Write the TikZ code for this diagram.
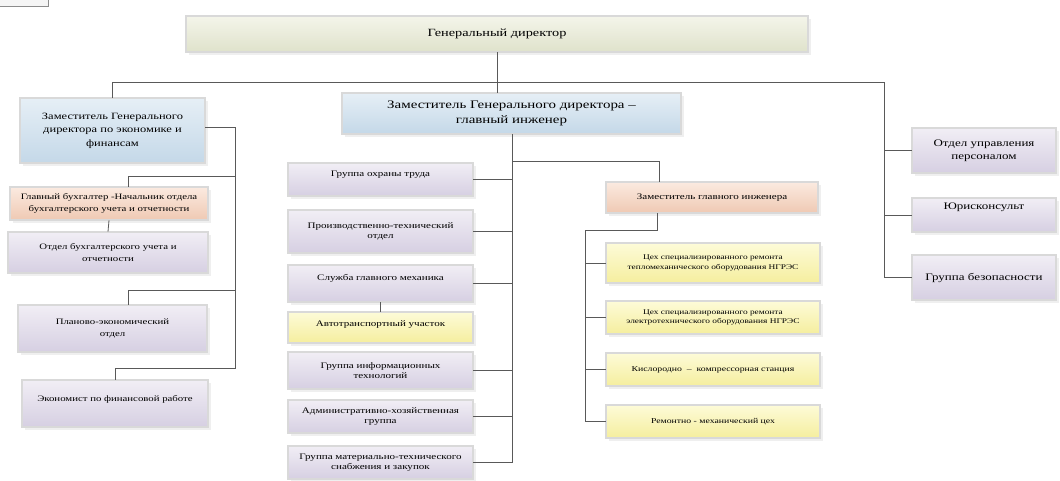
\documentclass[tikz,border=0pt]{standalone}
\usepackage{fontspec}
\setmainfont{Liberation Serif}[FakeStretch=1.3]
\usetikzlibrary{shadows,calc}
\definecolor{gdA}{HTML}{F4F5EA}\definecolor{gdB}{HTML}{DFE2CB}
\definecolor{blA}{HTML}{E6EFF6}\definecolor{blB}{HTML}{C4D8E8}
\definecolor{peA}{HTML}{FBEAE0}\definecolor{peB}{HTML}{EFC9B3}
\definecolor{lvA}{HTML}{F1EEF5}\definecolor{lvB}{HTML}{D6CFE2}
\definecolor{ylA}{HTML}{FDFBD8}\definecolor{ylB}{HTML}{F5EE9E}
% box: [extra options]{style}{name}{x1}{y1}{x2}{y2}{text}
\newcommand\bx[8][]{%
  \pgfmathsetmacro\bxcx{(#4+#6)/2}%
  \pgfmathsetmacro\bxcy{(#5+#7)/2}%
  \pgfmathsetmacro\bxw{#6-#4}%
  \pgfmathsetmacro\bxh{#7-#5}%
  \node[#2, minimum width=\bxw pt, minimum height=\bxh pt, #1] (#3) at (\bxcx,\bxcy) {#8};}
\begin{document}
\begin{tikzpicture}[x=1pt,y=-1pt,
  box/.style={draw=black!55, line width=0.7pt, double=black!15, double distance=1.1pt,
    inner sep=0pt, align=center, font=\fontsize{8.5}{10.5}\selectfont,
    drop shadow={shadow xshift=3pt,shadow yshift=-3pt,fill=black!12}},
  gdbox/.style={box, top color=gdA, bottom color=gdB},
  blbox/.style={box, top color=blA, bottom color=blB},
  pebox/.style={box, top color=peA, bottom color=peB},
  lvbox/.style={box, top color=lvA, bottom color=lvB},
  ylbox/.style={box, top color=ylA, bottom color=ylB},
  lft/.style={font=\fontsize{8.3}{11.5}\selectfont},
  rgt/.style={font=\fontsize{10}{12.5}\selectfont},
  tiny/.style={font=\fontsize{7.2}{9.5}\selectfont},
  small/.style={font=\fontsize{7.5}{9}\selectfont},
  conn/.style={draw=black!65, line width=0.8pt}]
\useasboundingbox (0,0) rectangle (1060,480);
% fragment top-left
\draw[draw=black!45, line width=0.8pt, fill=black!4] (-10,-10) rectangle (48,6);
% boxes
\bx[font=\fontsize{11}{13}\selectfont]{gdbox}{gd}{186}{16}{808}{52}{Генеральный директор}
\bx[font=\fontsize{11.5}{14.5}\selectfont]{blbox}{zc}{342}{93}{681}{134}{Заместитель Генерального директора –\\главный инженер}
\bx[font=\fontsize{9.6}{13.5}\selectfont]{blbox}{ze}{20}{98}{205}{163}{Заместитель Генерального\\директора по экономике и\\финансам}
\bx[lft]{pebox}{gl}{10}{187}{208}{220}{Главный бухгалтер -Начальник отдела\\бухгалтерского учета и отчетности}
\bx[lft]{lvbox}{ob}{8}{232}{208}{273}{Отдел бухгалтерского учета и\\отчетности}
\bx[lft]{lvbox}{pl}{18}{305}{207}{352}{Планово-экономический\\отдел}
\bx[lft, text height=7pt, text depth=12pt]{lvbox}{ek}{22}{380}{208}{427}{Экономист по финансовой работе}
\bx[text height=7pt, text depth=14pt]{lvbox}{m1}{288}{163}{473}{196}{Группа охраны труда}
\bx{lvbox}{m2}{288}{210}{473}{253}{Производственно-технический\\отдел}
\bx[text height=7pt, text depth=14pt]{lvbox}{m3}{288}{265}{473}{302}{Служба главного механика}
\bx[text height=7pt, text depth=10pt]{ylbox}{m4}{288}{312}{473}{343}{Автотранспортный участок}
\bx{lvbox}{m5}{288}{352}{473}{389}{Группа информационных\\технологий}
\bx{lvbox}{m6}{288}{400}{473}{433}{Административно-хозяйственная\\группа}
\bx{lvbox}{m7}{288}{446}{473}{479}{Группа материально-технического\\снабжения и закупок}
\bx{pebox}{zg}{606}{182}{818}{213}{Заместитель главного инженера}
\bx[tiny]{ylbox}{r1}{606}{243}{820}{283}{Цех специализированного ремонта\\тепломеханического оборудования НГРЭС}
\bx[tiny]{ylbox}{r2}{606}{301}{820}{334}{Цех специализированного ремонта\\электротехнического оборудования НГРЭС}
\bx[small]{ylbox}{r3}{606}{353}{820}{386}{Кислородно \ – \ компрессорная станция}
\bx[small]{ylbox}{r4}{606}{405}{820}{438}{Ремонтно - механический цех}
\bx[rgt]{lvbox}{p1}{912}{128}{1056}{173}{Отдел управления\\персоналом}
\bx[rgt, text height=7pt, text depth=18pt]{lvbox}{p2}{912}{198}{1056}{232}{Юрисконсульт}
\bx[rgt]{lvbox}{p3}{912}{255}{1056}{300}{Группа безопасности}
% connectors
\coordinate (top) at (884,82);
\coordinate (lx) at (235,0);
\coordinate (mx) at (512,0);
\coordinate (rx) at (585,0);
\draw[conn] (gd.south) -- (gd.south |- zc.north);
\draw[conn] (ze.north) |- (top) |- (p3.west);
\draw[conn] (top |- p1.west) -- (p1.west);
\draw[conn] (top |- p2.west) -- (p2.west);
% left
\draw[conn] (ze.east |- 0,127) -- (lx |- 0,127) -- (lx |- 0,368) -| (ek.north);
\draw[conn] (lx |- 0,176) -| ($(gl.north)+(19,0)$);
\draw[conn] (lx |- 0,290) -| ($(pl.north)+(15.5,0)$);
\draw[conn] (gl.south) -- (ob.north);
% middle
\draw[conn] (zc.south -| mx) -- (mx |- m7.east) -- (m7.east);
\draw[conn] (mx |- 0,161) -| ($(zg.north)+(-53,0)$);
\foreach \b in {m1,m2,m3,m5,m6} \draw[conn] (\b.east) -- (\b.east -| mx);
\draw[conn] (m3.south) -- (m4.north);
% right-middle
\draw[conn] ($(zg.south)+(-55,0)$) |- (rx |- 0,230) -- (rx |- r4.west) -- (r4.west);
\foreach \b in {r1,r2,r3} \draw[conn] (\b.west) -- (\b.west -| rx);
\end{tikzpicture}
\end{document}
